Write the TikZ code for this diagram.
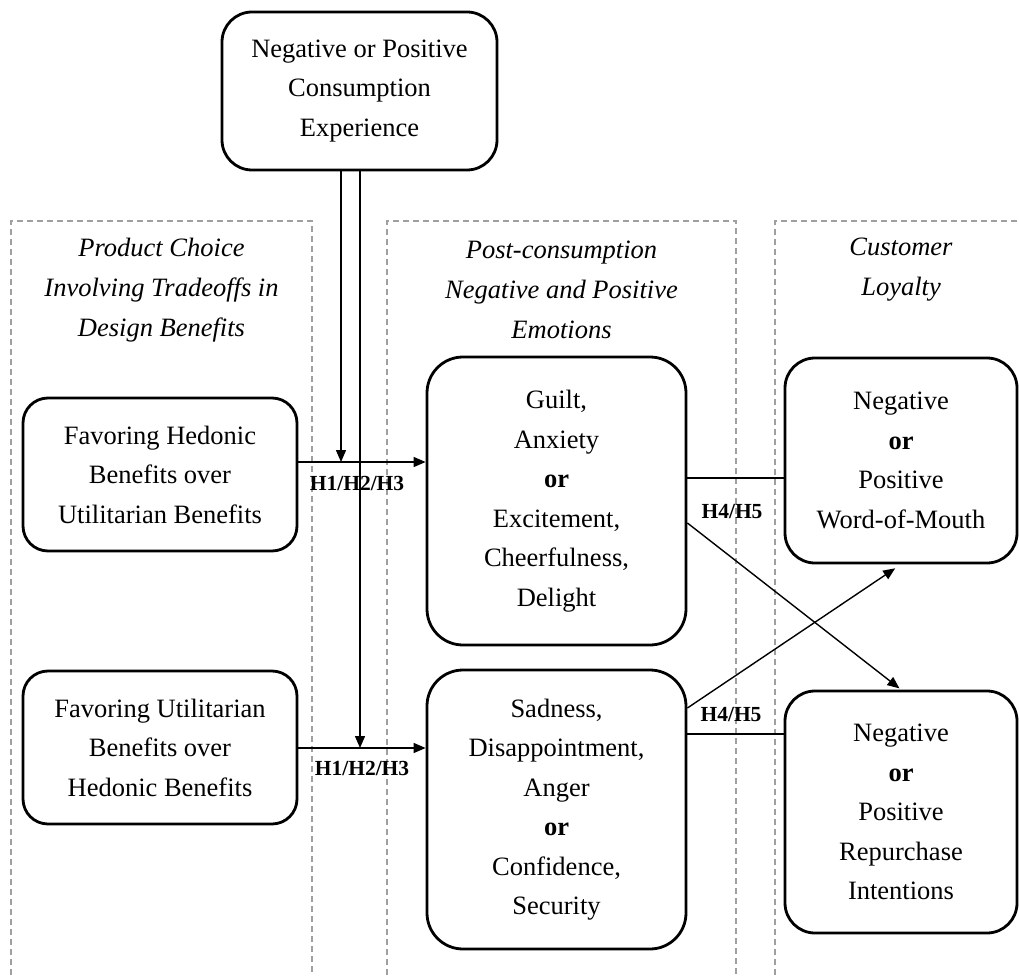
\documentclass[tikz,border=0pt]{standalone}
\usepackage{fontspec}
\setmainfont{Liberation Serif}
\usetikzlibrary{arrows.meta}
\tikzset{
  box/.style={draw, line width=2.8pt, rounded corners=30pt, align=center, inner sep=0pt,
    font=\fontsize{26.5}{39.5}\selectfont},
  hdr/.style={align=center, font=\fontsize{26.5}{40}\selectfont\itshape},
  hyp/.style={inner sep=0pt, font=\fontsize{21.5}{24}\selectfont\bfseries},
  frame/.style={draw=gray!75, line width=1.3pt, dash pattern=on 6pt off 4pt},
  arr/.style={line width=1.4pt, -{Triangle[length=12pt,width=10pt]}},
  link/.style={line width=1.4pt}
}
\begin{document}
\begin{tikzpicture}[x=1pt, y=-1pt]
    \useasboundingbox (0,0) rectangle (1019,976);

    \draw[frame] (11,985) |- (312,221) -- (312,985);
    \draw[frame] (387,985) |- (736,221) -- (736,985);
    \draw[frame] (775,985) |- (1030,221);

    \node[hdr] (hdrA) at (161.5,290) {Product Choice\\Involving Tradeoffs in\\Design Benefits};
    \node[hdr] (hdrB) at (561.5,290) {Post-consumption\\Negative and Positive\\Emotions};
    \node[hdr] (hdrC) at (901,270) {Customer\\Loyalty};

    \node[box, minimum width=275pt, minimum height=158pt] (expbox) at (359.5,91) {Negative or Positive\\Consumption\\Experience};
    \node[box, rounded corners=25pt, minimum width=274pt, minimum height=153pt] (hedbox) at (160,474.5) {Favoring Hedonic\\Benefits over\\Utilitarian Benefits};
    \node[box, rounded corners=25pt, minimum width=274pt, minimum height=153pt] (utilbox) at (160,747.5) {Favoring Utilitarian\\Benefits over\\Hedonic Benefits};
    \node[box, rounded corners=36pt, minimum width=259pt, minimum height=288pt] (emoA) at (556.5,501) {Guilt,\\Anxiety\\\textbf{or}\\Excitement,\\Cheerfulness,\\Delight};
    \node[box, rounded corners=36pt, minimum width=259pt, minimum height=279pt] (emoB) at (556.5,809.5) {Sadness,\\Disappointment,\\Anger\\\textbf{or}\\Confidence,\\Security};
    \node[box, minimum width=232pt, minimum height=205pt] (wom) at (901,460.5) {Negative\\\textbf{or}\\Positive\\Word-of-Mouth};
    \node[box, minimum width=232pt, minimum height=242pt] (repur) at (901,812) {Negative\\\textbf{or}\\Positive\\Repurchase\\Intentions};

    \coordinate (v1) at (341,0);
    \coordinate (v2) at (360,0);
    \coordinate (h1) at (0,462);
    \coordinate (h2) at (0,748);
    \coordinate (t1) at (0,478);
    \coordinate (t2) at (0,734);
    \coordinate (d1) at (0,523);
    \coordinate (d2) at (0,708);

    \draw[arr] (hedbox.east |- h1) -- (emoA.west |- h1);
    \draw[arr] (utilbox.east |- h2) -- (emoB.west |- h2);
    \draw[arr] (expbox.south -| v1) -- (v1 |- h1);
    \draw[arr] (expbox.south -| v2) -- (v2 |- h2);
    \node[hyp] (hypA) at (357,483) {H1/H2/H3};
    \node[hyp] (hypB) at (362,768) {H1/H2/H3};

    \draw[link] (emoA.east |- t1) -- (wom.west |- t1);
    \draw[link] (emoB.east |- t2) -- (repur.west |- t2);
    \draw[arr, shorten >=2pt] (emoA.east |- d1) -- (repur.north);
    \draw[arr, shorten >=7pt] (emoB.east |- d2) -- (wom.south);
    \node[hyp] (hypC) at (732,512) {H4/H5};
    \node[hyp] (hypD) at (731,715) {H4/H5};
\end{tikzpicture}
\end{document}
